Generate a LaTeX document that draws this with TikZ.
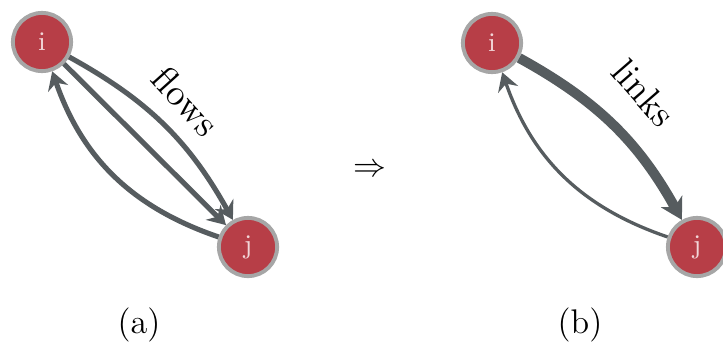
\documentclass[tikz,border=0pt]{standalone}
\usetikzlibrary{arrows.meta}
\definecolor{nodered}{HTML}{B73E47}
\definecolor{ringgray}{HTML}{A6A6A6}
\definecolor{edgegray}{HTML}{565C5F}
\definecolor{labpink}{HTML}{F2D6D8}
\begin{document}
\begin{tikzpicture}[x=0.3333pt,y=0.3333pt,
  vert/.style={circle,fill=nodered,draw=ringgray,line width=1.3pt,minimum size=19.4pt,inner sep=0pt,text=labpink,font=\small},
  flowedge/.style={draw=edgegray,line width=1.7pt,-{Stealth[length=6pt,width=7pt,inset=2pt]}},
  thickedge/.style={draw=edgegray,line width=3.3pt,-{Stealth[length=7pt,width=8pt,inset=2pt]}},
  thinedge/.style={draw=edgegray,line width=1.1pt,-{Stealth[length=6pt,width=7pt,inset=2pt]}},
  biglab/.style={font=\fontsize{12.5}{15}\selectfont},
  caplab/.style={font=\fontsize{11.4}{14}\selectfont}]
\useasboundingbox (0,0) rectangle (723,-351);
% (a)
\node[vert] (ia) at (42,-42) {i};
\node[vert] (ja) at (248,-247) {j};
\draw[flowedge] (ia) to[bend left=16] (ja);
\draw[flowedge] (ia) -- (ja);
\draw[flowedge] (ja) to[bend left=26] (ia);
\node[biglab,rotate=-48] (fl) at (186,-101) {flows};
% arrow
\node[caplab] (impl) at (370,-170) {$\Rightarrow$};
% (b)
\node[vert] (ib) at (492,-43) {i};
\node[vert] (jb) at (697,-247) {j};
\draw[thickedge] (ib) to[bend left=16] (jb);
\draw[thinedge] (jb) to[bend left=26] (ib);
\node[biglab,rotate=-49] (lk) at (644,-93) {links};
% captions
\node[caplab] (capa) at (139,-325) {(a)};
\node[caplab] (capb) at (580,-325) {(b)};
\end{tikzpicture}
\end{document}
